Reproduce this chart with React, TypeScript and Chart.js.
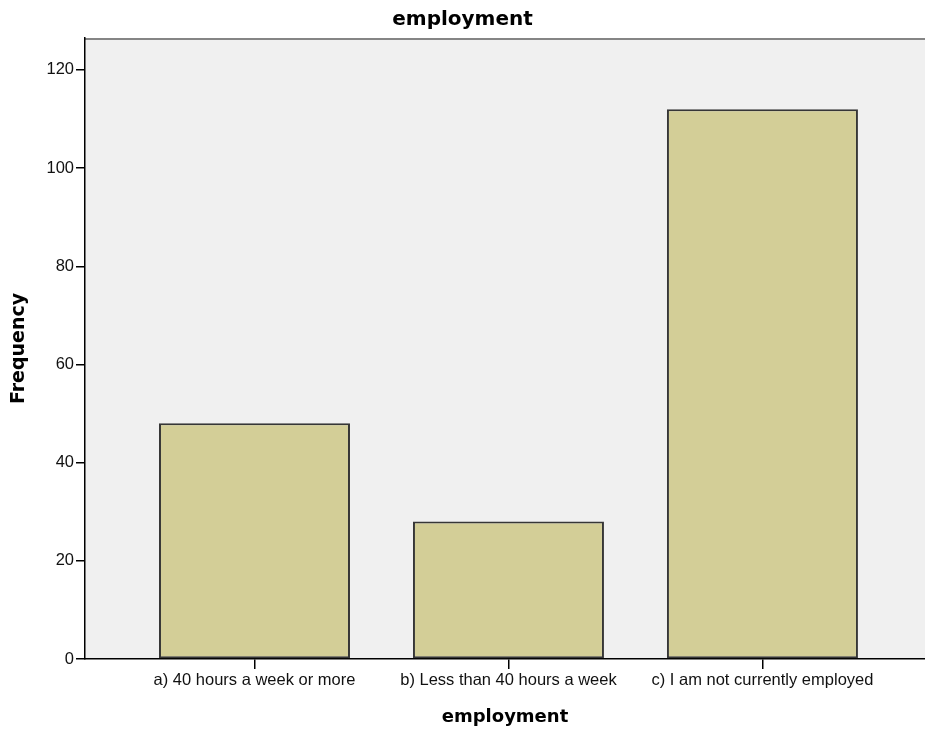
import { useEffect, useRef } from 'react';
import { Chart, registerables } from 'chart.js';

Chart.register(...registerables);

const categories = [
  'a) 40 hours a week or more',
  'b) Less than 40 hours a week',
  'c) I am not currently employed',
];
const frequencies = [48, 28, 112];
const yTicks = [0, 20, 40, 60, 80, 100, 120];
const chartTitle = 'employment';
const xAxisTitle = 'employment';
const yAxisTitle = 'Frequency';

const plotBackground = {
  id: 'plotBackground',
  beforeDraw(chart: any) {
    const { ctx, chartArea: a } = chart;
    ctx.save();
    ctx.fillStyle = '#F0F0F0';
    ctx.fillRect(a.left, a.top, a.right - a.left, a.bottom - a.top);
    ctx.strokeStyle = '#858585';
    ctx.lineWidth = 2;
    ctx.beginPath();
    ctx.moveTo(a.left, a.top + 1);
    ctx.lineTo(a.right, a.top + 1);
    ctx.stroke();
    ctx.restore();
  },
};

export default function App() {
  const ref = useRef<HTMLCanvasElement | null>(null);

  useEffect(() => {
    if (!ref.current) return;
    const tickFont = { family: '"Liberation Sans", Arial, sans-serif', size: 16.5 };
    const chart = new Chart(ref.current, {
      type: 'bar',
      data: {
        datasets: [
          {
            data: frequencies.map((y, i) => ({ x: i, y })) as any,
            backgroundColor: '#D3CE97',
            borderColor: '#363636',
            borderWidth: 2,
            borderSkipped: false,
            barPercentage: 0.752,
            categoryPercentage: 1,
          },
        ],
      },
      options: {
        responsive: false,
        animation: false,
        layout: { padding: 0 },
        plugins: {
          legend: { display: false },
          tooltip: { enabled: false },
          title: {
            display: true,
            text: chartTitle,
            color: '#000',
            font: { family: '"DejaVu Sans", sans-serif', weight: 'bold', size: 20 },
            padding: { top: 8, bottom: 6 },
          },
        },
        scales: {
          x: {
            type: 'linear',
            offset: false,
            min: -0.6673,
            max: 2.64,
            afterBuildTicks: (s: any) => {
              s.ticks = categories.map((_, i) => ({ value: i }));
            },
            afterFit: (s: any) => {
              s.height = 74;
            },
            ticks: {
              autoSkip: false,
              maxRotation: 0,
              padding: 2,
              color: '#111',
              font: tickFont,
              callback: (v: any) => categories[Math.round(Number(v))],
            },
            grid: {
              offset: false,
              drawOnChartArea: false,
              tickLength: 10,
              tickColor: '#000',
              lineWidth: 1.5,
            },
            border: { display: true, color: '#000', width: 1.5 },
            title: {
              display: true,
              text: xAxisTitle,
              color: '#000',
              font: { family: '"DejaVu Sans", sans-serif', weight: 'bold', size: 18 },
              padding: { top: 0, bottom: 5 },
            },
          },
          y: {
            min: 0,
            max: 126.5,
            afterBuildTicks: (s: any) => {
              s.ticks = yTicks.map((v) => ({ value: v }));
            },
            afterFit: (s: any) => {
              s.width = 85;
            },
            ticks: { padding: 2, color: '#111', font: tickFont },
            grid: { drawOnChartArea: false, tickLength: 9, tickColor: '#000', lineWidth: 1.5 },
            border: { display: true, color: '#000', width: 1.5 },
            title: {
              display: true,
              text: yAxisTitle,
              color: '#000',
              font: { family: '"DejaVu Sans", sans-serif', weight: 'bold', size: 19 },
              padding: { top: 8, bottom: 0 },
            },
          },
        },
      } as any,
      plugins: [plotBackground],
    });
    return () => chart.destroy();
  }, []);

  return (
    <div style={{ position: 'fixed', left: 0, top: 0, width: 925, height: 733, background: '#fff' }}>
      <canvas ref={ref} width={925} height={733} style={{ display: 'block' }} />
    </div>
  );
}
